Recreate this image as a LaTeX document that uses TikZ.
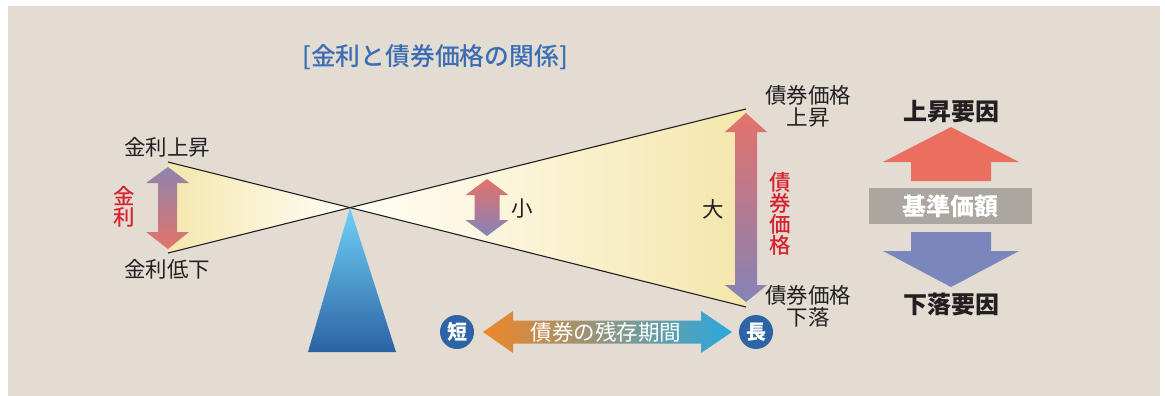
\documentclass[tikz,border=0pt]{standalone}
\usepackage{fontspec}
\setmainfont{Noto Sans CJK JP}
\newfontfamily\medfont{Noto Sans CJK JP}[UprightFont={* Medium}]
\definecolor{bg}{HTML}{E2DCD3}
\definecolor{yel}{HTML}{F5E6AC}
\definecolor{cream}{HTML}{FFFEF8}
\definecolor{ink}{HTML}{231F20}
\definecolor{redtxt}{HTML}{D8232F}
\definecolor{titleblue}{HTML}{3A6DB3}
\definecolor{arred}{HTML}{E3726A}
\definecolor{arpurple}{HTML}{8583B8}
\definecolor{lpurple}{HTML}{8E84B0}
\definecolor{lred}{HTML}{E27468}
\definecolor{fultop}{HTML}{6FD1F7}
\definecolor{fulbot}{HTML}{2D62A3}
\definecolor{orange}{HTML}{F08628}
\definecolor{cyan}{HTML}{2AA7E0}
\definecolor{circblue}{HTML}{2E64A6}
\definecolor{upred}{HTML}{EA6F5E}
\definecolor{downblue}{HTML}{7B86BC}
\definecolor{boxgray}{HTML}{ABA69F}
\begin{document}
\begin{tikzpicture}[x=1pt,y=-1pt,
  lbl/.style={font=\fontsize{21.5}{21.5}\selectfont, text=ink, inner sep=0pt, align=center},
  boldlbl/.style={font=\fontsize{24}{26}\bfseries\selectfont, text=ink, inner sep=0pt},
  redvert/.style={font=\medfont\fontsize{21.5}{21}\selectfont, text=redtxt, inner sep=0pt, align=center},
  circ/.style={circle, fill=circblue, minimum size=34pt, inner sep=0pt, text=white, font=\fontsize{20}{20}\bfseries\selectfont},
  beam/.style={draw=ink, line width=1.1pt}]
\useasboundingbox (0,0) rectangle (1165,396);
\fill[bg] (8,6) rectangle (1160,396);

% title
\node[font=\medfont\fontsize{24.8}{26}\selectfont, text=titleblue, inner sep=0pt] (title) at (435,57) {[金利と債券価格の関係]};

% beam
\coordinate (LT) at (168,162);
\coordinate (LB) at (168,253);
\coordinate (RT) at (746,109);
\coordinate (RB) at (746,307);
\coordinate (P) at (intersection of LT--RB and LB--RT);
\shade[left color=yel, right color=cream] (LT) -- (P) -- (LB) -- cycle;
\shade[left color=cream, right color=yel] (RT) -- (P) -- (RB) -- cycle;
\draw[beam] (LT) -- (RB);
\draw[beam] (LB) -- (RT);

% fulcrum
\shade[top color=fultop, bottom color=fulbot] (P) -- (396,352) -- (308,352) -- cycle;

% left double arrow
\shade[top color=lpurple, bottom color=lred] (168,167) -- (189,183) -- (177,183) -- (177,232) -- (189,232) -- (168,249) -- (146,232) -- (158,232) -- (158,183) -- (146,183) -- cycle;
% small arrow
\shade[top color=arred, bottom color=arpurple] (487,179) -- (508.5,195) -- (499.5,195) -- (499.5,220) -- (508.5,220) -- (487,236) -- (465.5,220) -- (474.5,220) -- (474.5,195) -- (465.5,195) -- cycle;
% big arrow
\shade[top color=arred, bottom color=arpurple] (746,113) -- (767,132) -- (757,132) -- (757,285) -- (767,285) -- (746,302) -- (725,285) -- (735,285) -- (735,132) -- (725,132) -- cycle;

% labels
\node[lbl] (kup) at (167,147) {金利上昇};
\node[lbl] (kdown) at (167,269) {金利低下};
\node[redvert] (kinri) at (124,207) {金\\利};
\node[lbl] (small) at (522,208) {小};
\node[lbl] (big) at (713,209) {大};
\node[lbl] (bup) at (808,106.5) {債券価格\\上昇};
\node[lbl] (bdown) at (808,306.5) {債券価格\\下落};
\node[redvert] (bprice) at (780,213.5) {債\\券\\価\\格};

% maturity arrow
\shade[left color=orange, right color=cyan] (483,332) -- (513,311) -- (513,320.5) -- (701,320.5) -- (701,311) -- (732,332) -- (701,353) -- (701,343.5) -- (513,343.5) -- (513,353) -- cycle;
\node[font=\fontsize{21.5}{21.5}\selectfont, text=white, inner sep=0pt] (mat) at (606,332) {債券の残存期間};
\node[circ] (short) at (457,332) {短};
\node[circ] (long) at (756,332) {長};

% right side
\node[boldlbl] (upf) at (951,112) {上昇要因};
\fill[upred] (951,127) -- (1019,162) -- (991,162) -- (991,181) -- (911,181) -- (911,162) -- (883,162) -- cycle;
\node[fill=boxgray, minimum width=163pt, minimum height=36pt, inner sep=0pt, text=white, font=\fontsize{24}{26}\bfseries\selectfont] (base) at (950.5,206) {基準価額};
\fill[downblue] (911,232) -- (991,232) -- (991,251) -- (1019,251) -- (951,287) -- (883,251) -- (911,251) -- cycle;
\node[boldlbl] (downf) at (951,304) {下落要因};
\end{tikzpicture}
\end{document}
